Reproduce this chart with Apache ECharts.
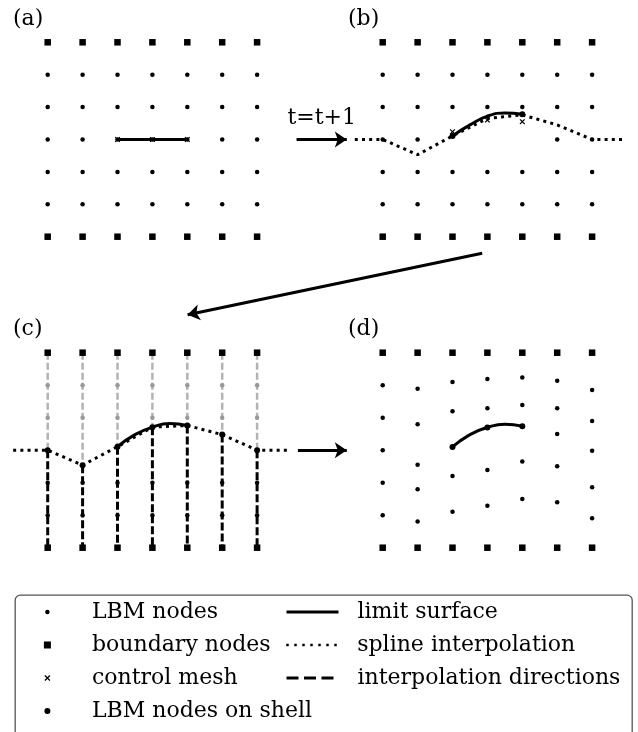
<!DOCTYPE html>
<html><head><meta charset="utf-8">
<script src="https://cdn.jsdelivr.net/npm/echarts@6/dist/echarts.min.js"></script>
<style>html,body{margin:0;padding:0;background:#fff}#c{width:638px;height:732px}</style>
</head><body><div id="c"></div>
<script>
// ---------- data (lattice units: column index, row index) ----------
const cols = [0, 1, 2, 3, 4, 5, 6];
const boundaryRows = [0, 6];
const innerRows = [1, 2, 3, 4, 5];

// panel (a)
const aControl = [[2, 3], [3, 3], [4, 3]];
const aLimit = [[2, 3], [3, 3], [4, 3]];

// panel (b)
const bInnerRows = [1, 2, 4, 5];
const bRow3Cols = [0, 1, 5, 6];
const bControl = [[2, 2.76], [3, 2.40], [4, 2.45]];
const bLimit = [[2, 2.89], [2.5, 2.55], [3, 2.28], [3.5, 2.18], [4, 2.22]];
const bSpline = [[-0.8, 3], [0, 3], [1, 3.47], [2, 2.89], [3, 2.35], [4, 2.24], [5, 2.55], [6, 3], [6.95, 3]];
const bShell = [[2, 2.89], [4, 2.22]];

// panel (c)
const cShellRows = [3, 3.46, 2.89, 2.29, 2.24, 2.52, 3];
const cAboveRows = [1, 2];
const cBelowRows = [4, 5];
const cLimit = [[2, 2.89], [2.5, 2.52], [3, 2.29], [3.5, 2.18], [4, 2.24]];
const cSplineEnds = [-0.99, 6.94];

// panel (d)
const dNodeRows = [
  [1, 2, 3, 4, 5],
  [1.11, 2.20, 3.45, 4.20, 5.19],
  [0.90, 1.80, 3.79, 4.89],
  [0.81, 1.71, 3.61, 4.71],
  [0.76, 1.61, 3.35, 4.50],
  [0.86, 1.71, 2.50, 3.49, 4.60],
  [1.15, 2.10, 3.02, 4.14, 5.09]
];
const dShell = [[2, 2.90], [3, 2.30], [4, 2.26]];
const dLimit = [[2, 2.90], [2.5, 2.52], [3, 2.30], [3.5, 2.20], [4, 2.26]];

// connecting arrows (in panel units)
const arrowAB = [[7.13, 3], [8.57, 3]];
const arrowBC = [[2.85, 6.51], [-5.59, 8.41]];
const arrowCD = [[7.17, 3], [8.57, 3]];
const stepLabel = 't=t+1';

// ---------- styling ----------
const FONT = 'DejaVu Serif';
const XPATH = 'path://M0,1.5L1.5,0L5,3.5L8.5,0L10,1.5L6.5,5L10,8.5L8.5,10L5,6.5L1.5,10L0,8.5L3.5,5Z';
const SQPATH = 'path://M0,0H10V10H0Z';

function cells(cs, rs) { const o = []; cs.forEach(c => rs.forEach(r => o.push([c, r]))); return o; }
const BLACK = {color: '#000', opacity: 1};

function nodes(p, data) {
  return {type: 'scatter', name: 'LBM nodes', xAxisIndex: p, yAxisIndex: p, data, symbol: 'circle', symbolSize: 4.5,
    itemStyle: BLACK, z: 5, silent: true};
}
function bnodes(p) {
  return {type: 'scatter', name: 'boundary nodes', xAxisIndex: p, yAxisIndex: p, data: cells(cols, boundaryRows),
    symbol: SQPATH, symbolSize: 6.5, itemStyle: BLACK, z: 5, silent: true};
}
function shell(p, data) {
  return {type: 'scatter', name: 'LBM nodes on shell', xAxisIndex: p, yAxisIndex: p, data, symbol: 'circle', symbolSize: 6,
    itemStyle: BLACK, z: 7, silent: true};
}
function control(p, data) {
  return {type: 'scatter', name: 'control mesh', xAxisIndex: p, yAxisIndex: p, data, symbol: XPATH, symbolSize: 5.5,
    itemStyle: BLACK, z: 8, silent: true};
}
function limit(p, data, smooth) {
  return {type: 'line', name: 'limit surface', xAxisIndex: p, yAxisIndex: p, data, smooth: smooth ? 0.5 : false,
    symbol: 'none', itemStyle: BLACK, lineStyle: {color: '#000', width: 3}, z: 6, clip: false, silent: true};
}
function spline(p, data) {
  return {type: 'line', name: 'spline interpolation', xAxisIndex: p, yAxisIndex: p, data, symbol: 'none', itemStyle: BLACK,
    lineStyle: {color: '#000', width: 3, type: [3, 4.2], cap: 'butt'}, z: 4, clip: false, silent: true};
}
function arrow(p, coords, label) {
  const s = {type: 'lines', coordinateSystem: 'cartesian2d', xAxisIndex: p, yAxisIndex: p,
    data: [{coords}], symbol: ['none', 'arrow'], symbolSize: 12,
    lineStyle: {color: '#000', width: 3, curveness: 0, opacity: 1}, z: 5, silent: true, clip: false};
  if (label) s.label = {show: true, position: 'middle', formatter: label, fontFamily: FONT, fontSize: 22, color: '#000', distance: 10};
  return s;
}

// panel (c) vertical direction lines
const grayLine = [], blackLine = [];
cols.forEach((c, i) => {
  grayLine.push([c, 0], [c, cShellRows[i]], ['-', '-']);
  blackLine.push([c, cShellRows[i]], [c, 6], ['-', '-']);
});
const cShell = cols.map((c, i) => [c, cShellRows[i]]);
const cSpline = [[cSplineEnds[0], 3]].concat(cShell, [[cSplineEnds[1], 3]]);

// panel (d) nodes
const dNodes = [];
dNodeRows.forEach((rs, c) => rs.forEach(r => dNodes.push([c, r])));

// ---------- layout (x axes span one extra column on each side) ----------
const colW = 34.9;
const panels = [
  {left: 47.7 - colW, top: 42.3, width: colW * 8, height: 194.4},
  {left: 382.7 - colW, top: 42.3, width: colW * 8, height: 194.4},
  {left: 47.7 - colW, top: 352.7, width: colW * 8, height: 195},
  {left: 382.7 - colW, top: 352.7, width: colW * 8, height: 195}
];
const grid = panels.map(p => Object.assign({containLabel: false}, p));
const xAxis = panels.map((p, i) => ({type: 'value', gridIndex: i, min: -1, max: 7, show: false}));
const yAxis = panels.map((p, i) => ({type: 'value', gridIndex: i, min: 0, max: 6, inverse: true, show: false}));

const series = [
  // (a)
  bnodes(0), nodes(0, cells(cols, innerRows)), control(0, aControl), limit(0, aLimit, false),
  arrow(0, arrowAB, stepLabel),
  // (b)
  bnodes(1), nodes(1, cells(cols, bInnerRows).concat(bRow3Cols.map(c => [c, 3]))),
  spline(1, bSpline), limit(1, bLimit, true), control(1, bControl), shell(1, bShell),
  arrow(1, arrowBC),
  // (c)
  bnodes(2),
  {type: 'line', name: 'interpolation directions', xAxisIndex: 2, yAxisIndex: 2, data: blackLine, symbol: 'none', itemStyle: BLACK,
    connectNulls: false, lineStyle: {color: '#000', width: 3, type: [8, 3]}, z: 2, silent: true},
  {type: 'line', name: 'directions above shell', xAxisIndex: 2, yAxisIndex: 2, data: grayLine, symbol: 'none',
    connectNulls: false, lineStyle: {color: '#b3b3b3', width: 2.5, type: [7, 3]}, z: 2, silent: true},
  {type: 'scatter', name: 'nodes above shell', xAxisIndex: 2, yAxisIndex: 2, data: cells(cols, cAboveRows),
    symbol: 'circle', symbolSize: 4.5, itemStyle: {color: '#999', opacity: 1}, z: 5, silent: true},
  nodes(2, cells(cols, cBelowRows)),
  spline(2, cSpline), limit(2, cLimit, true), shell(2, cShell),
  arrow(2, arrowCD),
  // (d)
  bnodes(3), nodes(3, dNodes), limit(3, dLimit, true), shell(3, dShell)
];

// ---------- legend ----------
const TS = {fontFamily: FONT, fontSize: 22, lineHeight: 22, color: '#000'};
const rowY = [612, 645, 678, 711];
const col1 = [['LBM nodes', 4.5], ['boundary nodes', 7], ['control mesh', 6], ['LBM nodes on shell', 6]];
const col2 = [
  {name: 'limit surface', lineStyle: {width: 3, type: 'solid', color: '#000'}},
  {name: 'spline interpolation', lineStyle: {width: 2.5, type: [2.5, 5.5], color: '#000'}},
  {name: 'interpolation directions', lineStyle: {width: 3, type: [12, 5.5], color: '#000'}}
];
const legend = [];
col1.forEach(([n, s], i) => {
  const left = 47.4 - s / 2;
  legend.push({data: [n], left, top: rowY[i] - 11, itemWidth: s, itemHeight: s, padding: 0, selectedMode: false,
    textStyle: Object.assign({padding: [0, 0, 0, 92 - (left + s) - 5]}, TS)});
});
col2.forEach((d, i) => {
  legend.push({data: [Object.assign({itemStyle: {opacity: 0}}, d)], left: 285, top: rowY[i] - 11, itemWidth: 52, itemHeight: 14,
    padding: 0, selectedMode: false, textStyle: Object.assign({padding: [0, 0, 0, 14]}, TS)});
});

const titleStyle = {fontFamily: FONT, fontSize: 22, fontWeight: 'normal', color: '#000'};
const title = [['(a)', 13, 8], ['(b)', 348, 8], ['(c)', 13, 318], ['(d)', 348, 318]].map(([t, l, tp]) =>
  ({text: t, left: l, top: tp, padding: 0, textStyle: titleStyle}));

const chart = echarts.init(document.getElementById('c'), null, {renderer: 'canvas'});
chart.setOption({
  animation: false,
  backgroundColor: '#fff',
  title, grid, xAxis, yAxis, legend, series,
  graphic: [{type: 'rect', left: 12.7, top: 592.7, shape: {width: 617, height: 160, r: 5}, z: -1,
    style: {fill: 'none', stroke: '#555', lineWidth: 1.3}}]
});
</script></body></html>
